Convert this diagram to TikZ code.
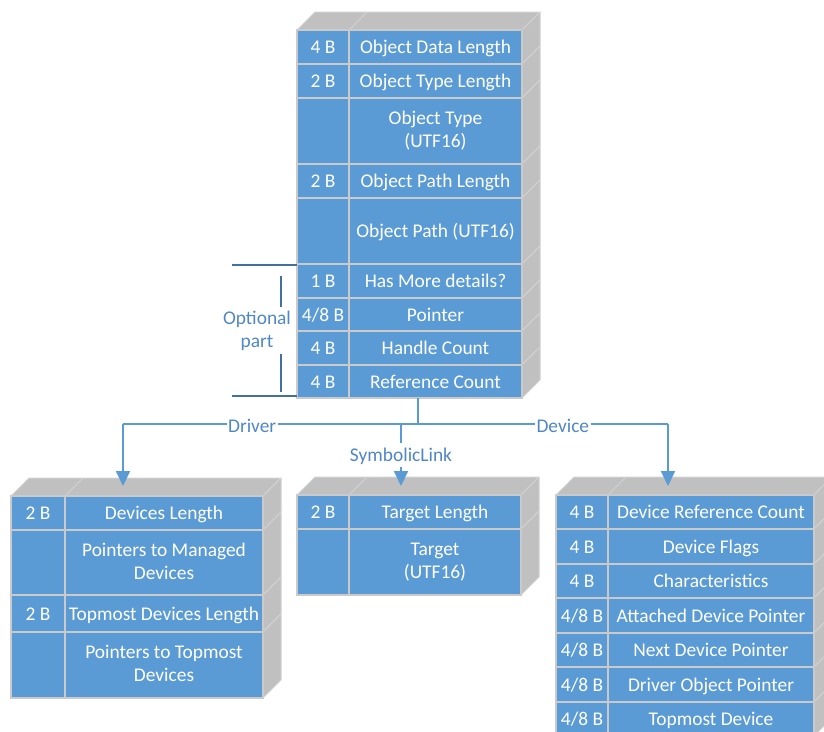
\documentclass[tikz,border=0pt]{standalone}
\usepackage{fontspec}
\setmainfont{Carlito}
\usetikzlibrary{arrows.meta}

\definecolor{cellblue}{HTML}{5B9BD5}
\definecolor{cellline}{HTML}{CACACA}
\definecolor{facegray}{HTML}{C0C0C0}
\definecolor{faceline}{HTML}{D2D2D2}
\definecolor{linkblue}{HTML}{5B9BD5}
\definecolor{labelblue}{HTML}{4F87C7}
\definecolor{bracketblue}{HTML}{41719C}

% strut that centres a line of text on its capitals (16.5pt up, 4pt down)
\newcommand{\capstrut}{\rule[-4pt]{0pt}{20.5pt}}

\tikzset{
  x=1pt, y=-1pt,
  cellface/.style={fill=cellblue, draw=cellline, line width=1.5pt},
  sideface/.style={fill=facegray, draw=faceline, line width=1pt, line join=round},
  faceedge/.style={draw=faceline, line width=1pt},
  celltext/.style={text=white, font=\fontsize{19.4}{23}\selectfont, align=center, inner sep=0pt,
    execute at begin node=\capstrut, execute at end node=\capstrut},
  link/.style={draw=linkblue, line width=2pt},
  linkarrow/.style={link, -{Triangle[length=15pt, width=14pt]}},
  linklabel/.style={text=labelblue, fill=white, inner sep=1.5pt, font=\fontsize{19.4}{23}\selectfont,
    execute at begin node=\capstrut},
  bracket/.style={draw=bracketblue, line width=2.5pt},
  bracketstem/.style={draw=bracketblue, line width=1.5pt},
}

% top face of a stacked record: left x, column split x, right x, top y
\newcommand{\recordtop}[4]{%
  \filldraw[sideface] (#1,#4) -- (#1+18,#4-18) -- (#3+18,#4-18) -- (#3,#4) -- cycle;
  \draw[faceedge] (#2,#4) -- (#2+18,#4-18);
}

% one field of a record: name, left x, split x, right x, top y, bottom y, size, field
\newcommand{\fieldrow}[8]{%
  \filldraw[sideface] (#4,#5) -- (#4+18,#5-18) -- (#4+18,#6-18) -- (#4,#6) -- cycle;
  \filldraw[cellface] (#2,#5) rectangle (#3,#6);
  \filldraw[cellface] (#3,#5) rectangle (#4,#6);
  \node[celltext] (#1-size) at ({(#2+#3)/2},{(#5+#6)/2+0.5}) {#7};
  \node[celltext] (#1-field) at ({(#3+#4)/2},{(#5+#6)/2+0.5}) {#8};
}

\begin{document}
\begin{tikzpicture}
\useasboundingbox (0,0) rectangle (824,731);
\clip (0,0) rectangle (824,731);

% ---------- object header ----------
\recordtop{297}{349}{522}{30}
\fieldrow{odl}{297}{349}{522}{30}{64}{4 B}{Object Data Length}
\fieldrow{otl}{297}{349}{522}{64}{98}{2 B}{Object Type Length}
\fieldrow{ot}{297}{349}{522}{98}{164}{}{Object Type\\(UTF16)}
\fieldrow{opl}{297}{349}{522}{164}{198}{2 B}{Object Path Length}
\fieldrow{op}{297}{349}{522}{198}{264}{}{Object Path (UTF16)}
\fieldrow{hmd}{297}{349}{522}{264}{298}{1 B}{Has More details?}
\fieldrow{ptr}{297}{349}{522}{298}{331}{4/8 B}{Pointer}
\fieldrow{hc}{297}{349}{522}{331}{365}{4 B}{Handle Count}
\fieldrow{rc}{297}{349}{522}{365}{398}{4 B}{Reference Count}

% ---------- optional part bracket ----------
\coordinate (brTopL) at (232,265);
\coordinate (brTopR) at (297,265);
\coordinate (brBotL) at (232,396);
\coordinate (brBotR) at (297,396);
\coordinate (stemA) at (281,276);
\coordinate (stemB) at (281,307);
\coordinate (stemC) at (281,354);
\coordinate (stemD) at (281,392);
\draw[bracket] (brTopL) -- (brTopR);
\draw[bracket] (brBotL) -- (brBotR);
\draw[bracketstem] (stemA) -- (stemB);
\draw[bracketstem] (stemC) -- (stemD);
\node[text=labelblue, font=\fontsize{19.4}{23}\selectfont, align=center, inner sep=0pt,
  execute at begin node=\capstrut, execute at end node=\capstrut]
  (optional) at (257,331) {Optional\\part};

% ---------- driver record ----------
\recordtop{11}{65}{263}{496}
\fieldrow{dl}{11}{65}{263}{496}{530}{2 B}{Devices Length}
\fieldrow{pmd}{11}{65}{263}{530}{595}{}{Pointers to Managed\\Devices}
\fieldrow{tdl}{11}{65}{263}{595}{632}{2 B}{Topmost Devices Length}
\fieldrow{ptd}{11}{65}{263}{632}{698}{}{Pointers to Topmost\\Devices}

% ---------- symbolic link record ----------
\recordtop{297}{349}{521}{495}
\fieldrow{tl}{297}{349}{521}{495}{529}{2 B}{Target Length}
\fieldrow{tg}{297}{349}{521}{529}{595}{}{Target\\(UTF16)}

% ---------- device record ----------
\recordtop{556}{608}{814}{495}
\fieldrow{drc}{556}{608}{814}{495}{529}{4 B}{Device Reference Count}
\fieldrow{df}{556}{608}{814}{529}{564}{4 B}{Device Flags}
\fieldrow{ch}{556}{608}{814}{564}{598}{4 B}{Characteristics}
\fieldrow{adp}{556}{608}{814}{598}{633}{4/8 B}{Attached Device Pointer}
\fieldrow{ndp}{556}{608}{814}{633}{667}{4/8 B}{Next Device Pointer}
\fieldrow{dop}{556}{608}{814}{667}{702}{4/8 B}{Driver Object Pointer}
\fieldrow{tmd}{556}{608}{814}{702}{736}{4/8 B}{Topmost Device}

% ---------- connectors ----------
\coordinate (stem) at (418,398);
\coordinate (hub) at (418,423.5);
\coordinate (hubL) at (123,423.5);
\coordinate (hubM) at (401,423.5);
\coordinate (hubR) at (668,423.5);
\coordinate (tipL) at (123,486);
\coordinate (tipM) at (401,486);
\coordinate (tipR) at (668,486);

\draw[link] (stem) -- (hub);
\draw[link] (hubL) -- node[linklabel, pos=0.237, yshift=-2.5pt] (lblDriver) {Driver}
                      node[linklabel, pos=0.807, yshift=-2.5pt] (lblDevice) {Device} (hubR);
\draw[linkarrow] (hubL) -- (tipL);
\draw[linkarrow] (hubM) -- node[linklabel, pos=0.5] (lblSym) {SymbolicLink} (tipM);
\draw[linkarrow] (hubR) -- (tipR);
\end{tikzpicture}
\end{document}
